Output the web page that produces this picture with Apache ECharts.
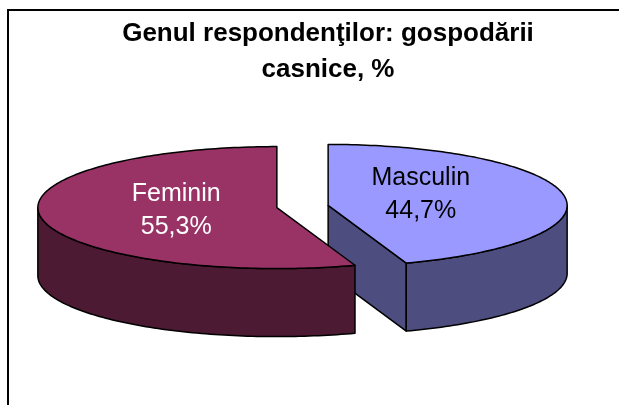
<!DOCTYPE html>
<html>
<head>
<meta charset="utf-8">
<title>Genul respondenţilor</title>
<script src="https://cdn.jsdelivr.net/npm/echarts@6/dist/echarts.min.js"></script>
<style>
  html, body { margin: 0; padding: 0; background: #fff; }
  #chart { width: 619px; height: 405px; }
</style>
</head>
<body>
<div id="chart"></div>
<script>
// date
const categories = ["Masculin", "Feminin"];
const values = [44.7, 55.3];

// stil
const topColors = ["#9999ff", "#993366"];
const sideColors = ["#4d4d80", "#4d1a33"];
const labelColors = ["#000000", "#ffffff"];
const FONT = '"Liberation Sans", Arial, sans-serif';

// plăcinta 3D, în pixeli
const pie = { cx: 302.5, cy: 206.5, rx: 239, ry: 61, depth: 68, explode: 26 };

const total = values.reduce((a, b) => a + b, 0);
const startAngles = [];
let acc = 0;
values.forEach(v => {
  startAngles.push((acc / total) * Math.PI * 2);
  acc += v;
});

// unghiul se măsoară de la ora 12, în sensul acelor de ceas
const pt = (c, a, k = 1, h = 0) => [
  c[0] + k * pie.rx * Math.sin(a),
  c[1] - k * pie.ry * Math.cos(a) + h
];

const arc = (c, a0, a1, h) => {
  const n = Math.max(2, Math.ceil(Math.abs(a1 - a0) / 0.02));
  const out = [];
  for (let i = 0; i <= n; i++) out.push(pt(c, a0 + ((a1 - a0) * i) / n, 1, h));
  return out;
};

const renderSlice = (params, api) => {
  const i = api.value(0);
  const a0 = startAngles[i];
  const a1 = a0 + (values[i] / total) * Math.PI * 2;
  const mid = (a0 + a1) / 2;
  const c = [
    pie.cx + pie.explode * Math.sin(mid),
    pie.cy - ((pie.explode * pie.ry) / pie.rx) * Math.cos(mid)
  ];
  const zBase = Math.round((2 - Math.cos(mid)) * 10);
  const line = { stroke: "#000", lineWidth: 1.5, lineJoin: "round" };
  const side = Object.assign({ fill: sideColors[i] }, line);
  const children = [];

  // fețele tăiate, doar cele întoarse spre noi
  if (Math.sin(a0) < -1e-6) {
    children.push({
      type: "polygon", z2: zBase,
      shape: { points: [c, pt(c, a0), pt(c, a0, 1, pie.depth), [c[0], c[1] + pie.depth]] },
      style: side
    });
  }
  if (Math.sin(a1) > 1e-6) {
    children.push({
      type: "polygon", z2: zBase,
      shape: { points: [c, pt(c, a1), pt(c, a1, 1, pie.depth), [c[0], c[1] + pie.depth]] },
      style: side
    });
  }

  // marginea din față
  const s = Math.max(a0, Math.PI / 2);
  const e = Math.min(a1, Math.PI * 1.5);
  if (e > s) {
    children.push({
      type: "polygon", z2: zBase + 1,
      shape: { points: arc(c, s, e, 0).concat(arc(c, e, s, pie.depth)) },
      style: side
    });
  }

  // fața de sus
  children.push({
    type: "polygon", z2: zBase + 2,
    shape: { points: [c].concat(arc(c, a0, a1, 0)) },
    style: Object.assign({ fill: topColors[i] }, line)
  });

  // eticheta
  children.push({
    type: "text", z2: zBase + 3,
    style: {
      x: c[0] + 0.41 * pie.rx * Math.sin(mid) - 4,
      y: c[1] - 0.72 * pie.ry * Math.cos(mid) - 4,
      text: categories[i] + "\n" + values[i].toFixed(1).replace(".", ",") + "%",
      fill: labelColors[i],
      fontSize: 25,
      fontFamily: FONT,
      lineHeight: 33,
      align: "center",
      verticalAlign: "middle"
    }
  });

  return { type: "group", children };
};

const chart = echarts.init(document.getElementById("chart"));
chart.setOption({
  animation: false,
  title: {
    text: "Genul respondenţilor: gospodării\ncasnice, %",
    left: 328,
    top: 16,
    textAlign: "center",
    padding: 0,
    textStyle: {
      fontSize: 26,
      fontWeight: "bold",
      fontFamily: FONT,
      color: "#000",
      lineHeight: 36
    }
  },
  graphic: [
    {
      type: "rect",
      silent: true,
      shape: { x: 8, y: 10, width: 700, height: 500 },
      style: { fill: "none", stroke: "#000", lineWidth: 2 }
    }
  ],
  series: [
    {
      type: "custom",
      coordinateSystem: "none",
      renderItem: renderSlice,
      data: categories.map((name, i) => ({ name, value: [i] }))
    }
  ]
});
</script>
</body>
</html>
